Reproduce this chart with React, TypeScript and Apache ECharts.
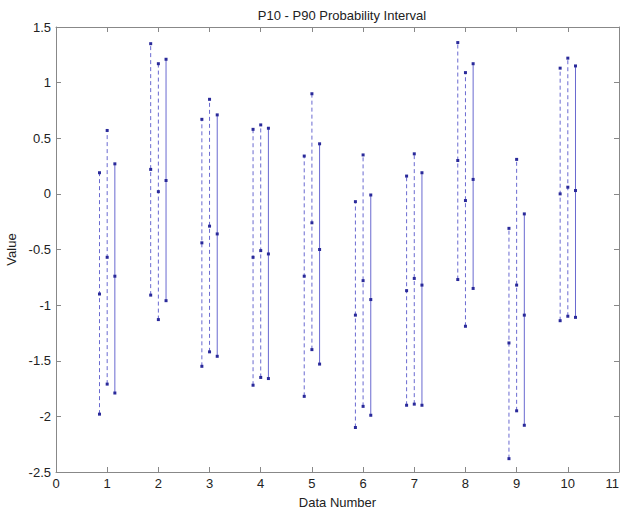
import React, { useEffect, useRef } from "react";
import * as echarts from "echarts";

const dataNumbers = [1, 2, 3, 4, 5, 6, 7, 8, 9, 10];
const offsets = [-0.15, 0, 0.15];
const lineTypes = ["dashed", "dashed", "solid"];

// P10 / P50 / P90 for three intervals at each data number
const p10A = [-1.98, -0.91, -1.55, -1.72, -1.82, -2.1, -1.9, -0.77, -2.38, -1.14];
const p50A = [-0.9, 0.22, -0.44, -0.57, -0.74, -1.09, -0.87, 0.3, -1.34, 0.0];
const p90A = [0.19, 1.35, 0.67, 0.58, 0.34, -0.07, 0.16, 1.36, -0.31, 1.13];

const p10B = [-1.71, -1.13, -1.42, -1.65, -1.4, -1.91, -1.89, -1.19, -1.95, -1.1];
const p50B = [-0.57, 0.02, -0.29, -0.51, -0.26, -0.78, -0.76, -0.06, -0.82, 0.06];
const p90B = [0.57, 1.17, 0.85, 0.62, 0.9, 0.35, 0.36, 1.09, 0.31, 1.22];

const p10C = [-1.79, -0.96, -1.46, -1.66, -1.53, -1.99, -1.9, -0.85, -2.08, -1.11];
const p50C = [-0.74, 0.12, -0.36, -0.54, -0.5, -0.95, -0.82, 0.13, -1.09, 0.03];
const p90C = [0.27, 1.21, 0.71, 0.59, 0.45, -0.01, 0.19, 1.17, -0.18, 1.15];

const groups = [
  [p10A, p50A, p90A],
  [p10B, p50B, p90B],
  [p10C, p50C, p90C],
];

const yTicks = [1.5, 1, 0.5, 0, -0.5, -1, -1.5, -2, -2.5];

export default function App() {
  const ref = useRef<HTMLDivElement>(null);
  useEffect(() => {
    if (!ref.current) return;
    const chart = echarts.init(ref.current, null, { renderer: "svg" });
    const series: any[] = [];
    groups.forEach((g, k) => {
      dataNumbers.forEach((n, i) => {
        const x = n + offsets[k];
        series.push({
          type: "line",
          xAxisIndex: 0,
          yAxisIndex: 0,
          data: [
            [x, g[0][i]],
            [x, g[1][i]],
            [x, g[2][i]],
          ],
          symbol: "rect",
          symbolSize: 3,
          itemStyle: { color: "#2a2a9a" },
          lineStyle: {
            color: "#6a6ad0",
            width: 1,
            type: k < 2 ? [4, 3] : lineTypes[k],
          },
          silent: true,
        });
      });
    });
    const font = "Liberation Sans, Arial, sans-serif";
    const axisLine = { show: true, onZero: false, lineStyle: { color: "#888", width: 1 } };
    const tick = { show: true, inside: true, length: 5, lineStyle: { color: "#888" } };
    chart.setOption({
      animation: false,
      backgroundColor: "#fff",
      title: {
        text: "P10 - P90 Probability Interval",
        left: 337,
        textAlign: "center",
        top: 4,
        textStyle: { fontFamily: font, fontSize: 13, fontWeight: "normal", color: "#222" },
      },
      grid: {
        left: 56,
        right: 4,
        top: 27,
        bottom: 38,
        containLabel: false,
        outerBoundsMode: "none",
      },
      xAxis: [
        {
          type: "value",
          min: 0,
          max: 11,
          interval: 1,
          name: "Data Number",
          nameLocation: "middle",
          nameGap: 24,
          nameTextStyle: { fontFamily: font, fontSize: 13, color: "#222" },
          axisLine,
          axisTick: tick,
          axisLabel: {
            fontFamily: font,
            fontSize: 13,
            color: "#222",
            margin: 5,
            alignMaxLabel: "right",
          },
          splitLine: { show: false },
        },
        {
          type: "value",
          position: "top",
          min: 0,
          max: 11,
          interval: 1,
          axisLine,
          axisTick: tick,
          axisLabel: { show: false },
          splitLine: { show: false },
        },
      ],
      yAxis: [
        {
          type: "value",
          min: -2.5,
          max: 1.5,
          interval: 0.5,
          name: "Value",
          nameLocation: "middle",
          nameGap: 34,
          nameRotate: 90,
          nameTextStyle: { fontFamily: font, fontSize: 13, color: "#222" },
          axisLine,
          axisTick: tick,
          axisLabel: {
            fontFamily: font,
            fontSize: 13,
            color: "#222",
            margin: 5,
            formatter: (v: number) => {
              const t = yTicks.find((y) => Math.abs(y - v) < 1e-9);
              return t === undefined ? "" : String(t);
            },
          },
          splitLine: { show: false },
        },
        {
          type: "value",
          position: "right",
          min: -2.5,
          max: 1.5,
          interval: 0.5,
          axisLine,
          axisTick: tick,
          axisLabel: { show: false },
          splitLine: { show: false },
        },
      ],
      series,
    });
    return () => chart.dispose();
  }, []);
  return (
    <div
      ref={ref}
      style={{ position: "fixed", left: 0, top: 0, width: 623, height: 510 }}
    />
  );
}
